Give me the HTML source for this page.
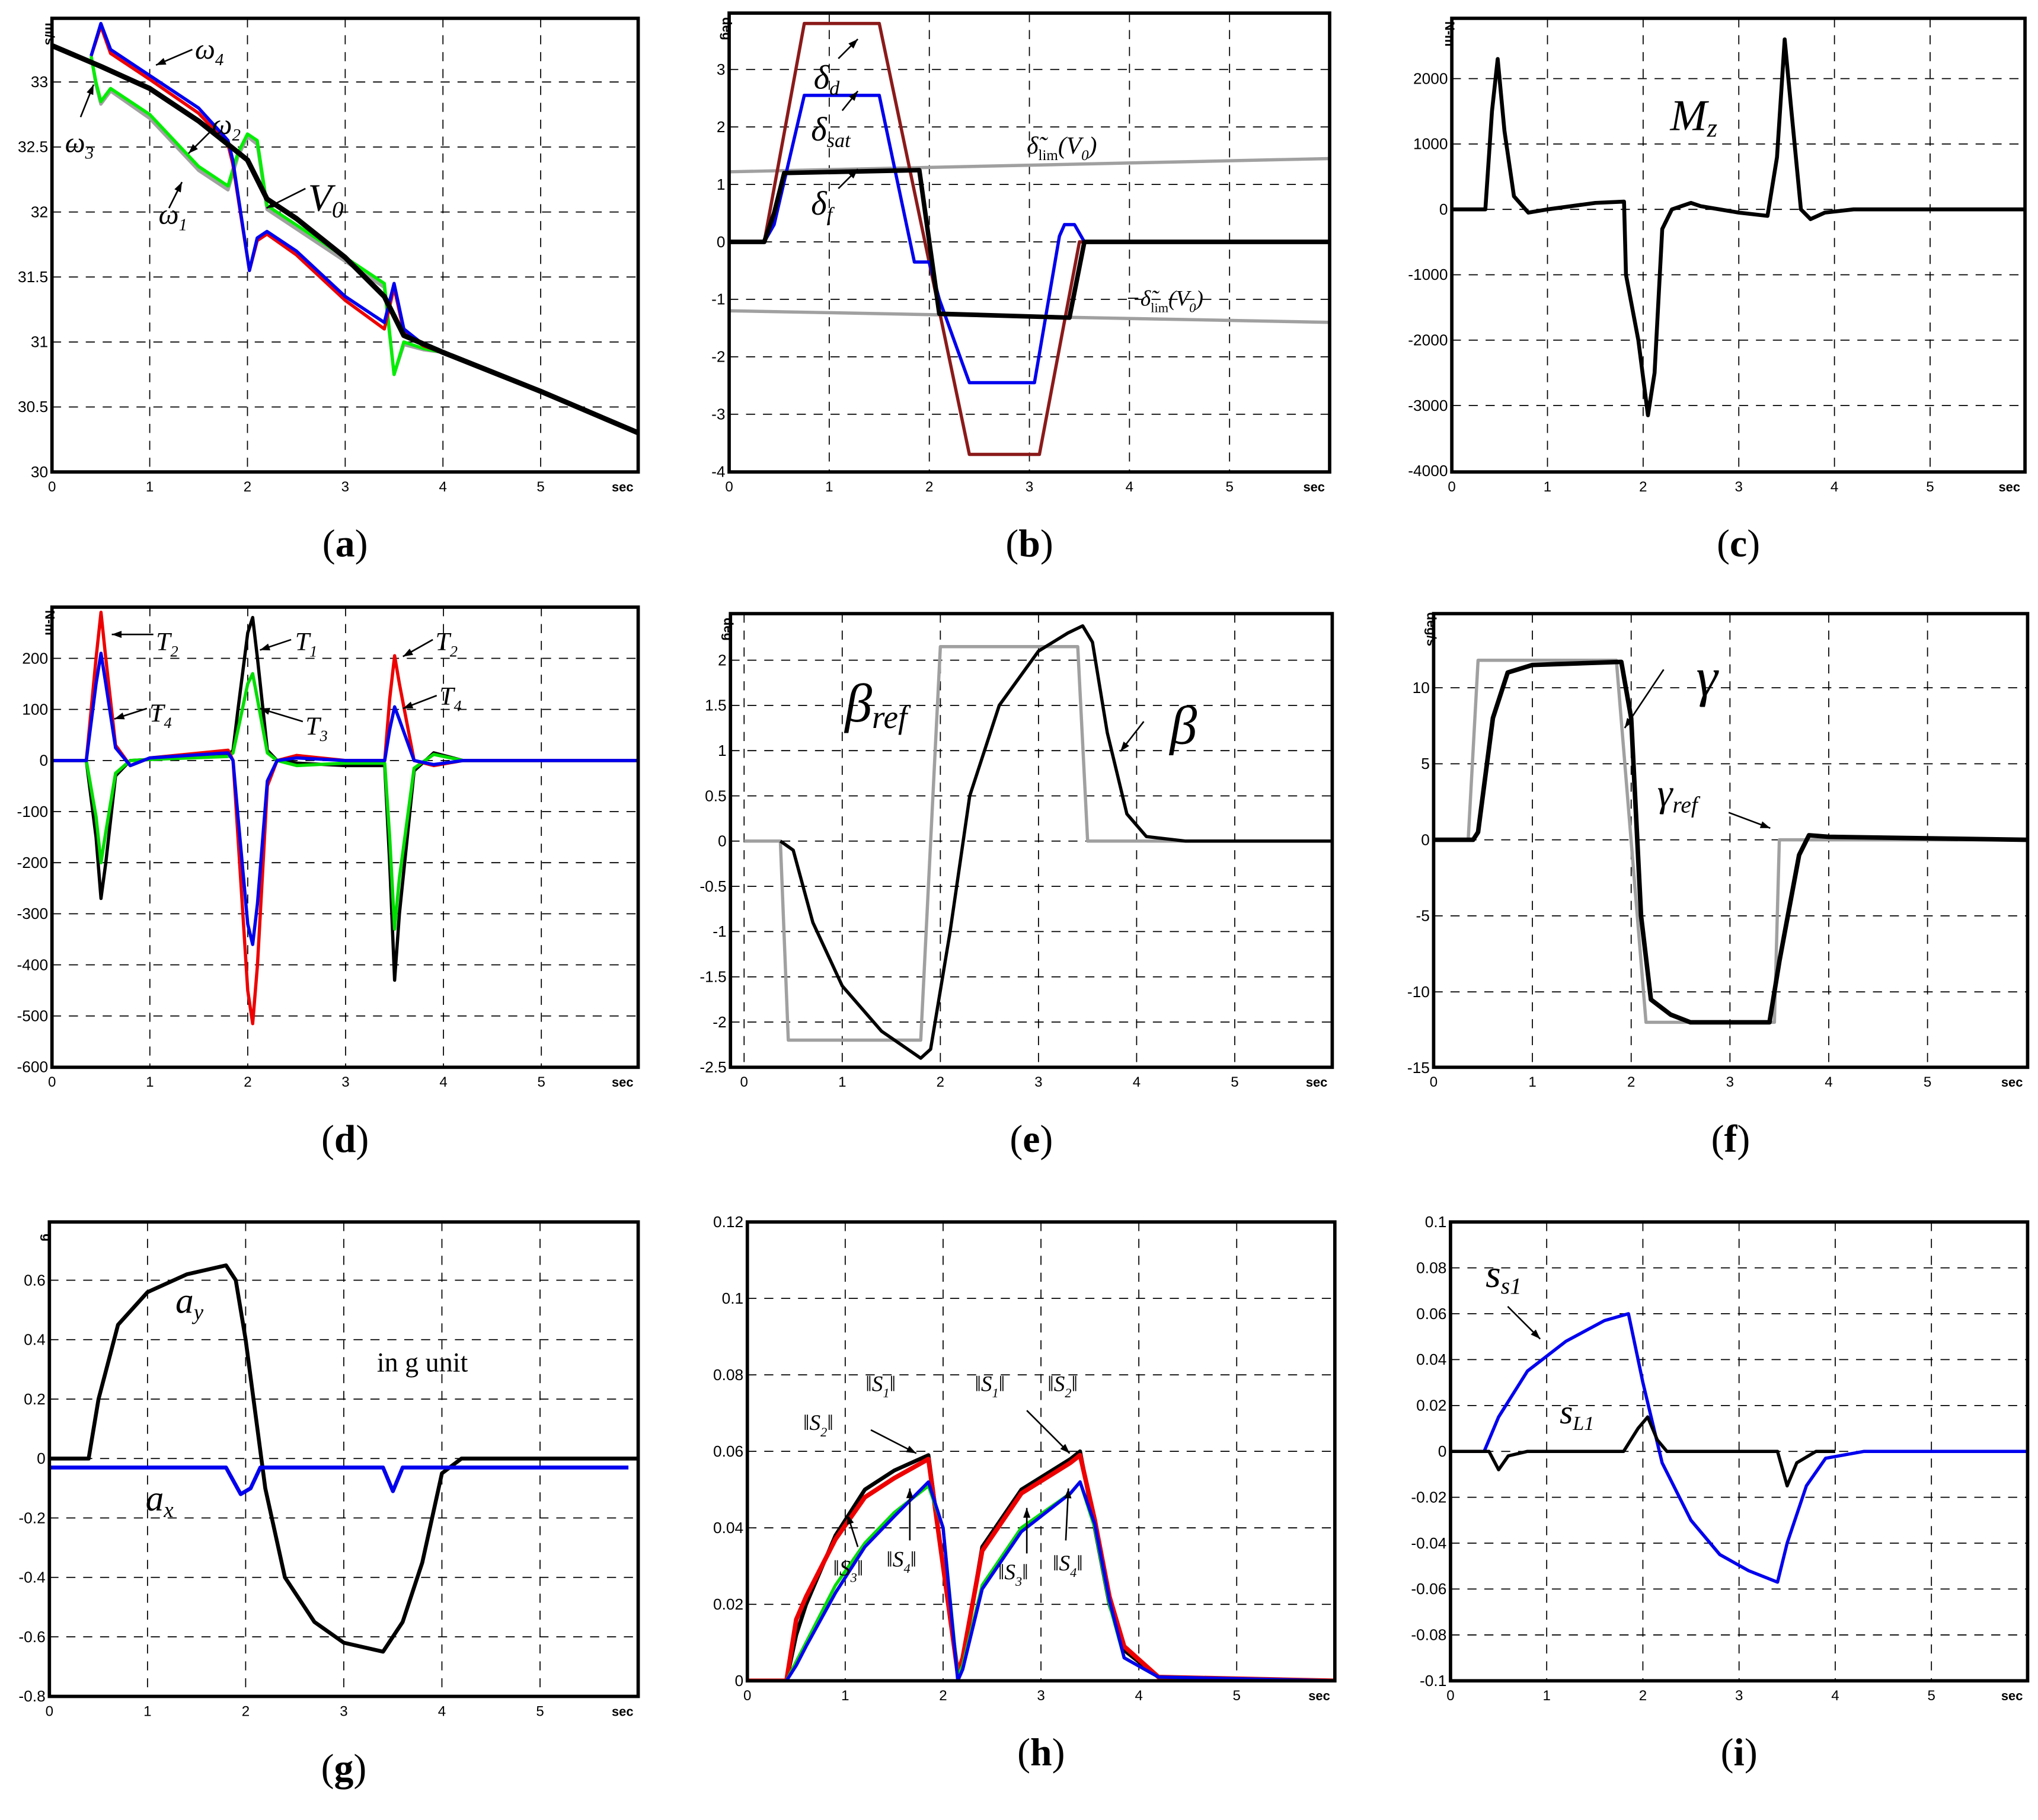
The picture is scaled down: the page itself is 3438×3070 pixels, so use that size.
<!DOCTYPE html>
<html><head><meta charset="utf-8">
<style>
html,body{margin:0;padding:0;background:#fff;}
svg{display:block;}
</style></head>
<body>
<svg id="fig" width="3438" height="3070" viewBox="0 0 1568 1400" xmlns="http://www.w3.org/2000/svg" font-family="Liberation Sans, sans-serif"></svg>
<script>
// ---------- data ----------
// panel a
const aT_V0=[0,0.5,1,1.5,2,2.2,2.5,3,3.4,3.6,4,5,6];
const aV_V0=[33.28,33.12,32.95,32.7,32.4,32.1,31.95,31.65,31.35,31.05,30.92,30.62,30.3];
const aT_w4=[0.4,0.5,0.6,1,1.5,1.8,1.85,2.02,2.1,2.2,2.5,3,3.4,3.5,3.6,3.8,4];
const aV_w4=[33.2,33.45,33.25,33.05,32.8,32.55,32.4,31.55,31.8,31.85,31.7,31.35,31.15,31.45,31.1,30.98,30.92];
const aV_w2=[33.2,33.43,33.22,33.02,32.76,32.52,32.37,31.55,31.78,31.83,31.67,31.32,31.1,31.42,31.08,30.97,30.92];
const aT_w3=[0.4,0.45,0.5,0.6,1,1.5,1.8,1.9,2.0,2.1,2.2,2.5,3,3.4,3.5,3.6,3.8,4];
const aV_w3=[33.2,33.0,32.85,32.95,32.75,32.35,32.2,32.45,32.6,32.55,32.05,31.9,31.65,31.45,30.75,31.0,30.95,30.92];
const aV_w1=[33.2,32.98,32.83,32.93,32.72,32.32,32.17,32.42,32.58,32.52,32.02,31.87,31.62,31.42,30.75,30.98,30.94,30.92];
// panel b
const bT_d=[0,0.35,0.75,1.5,2.4,3.1,3.5,6];
const bV_d=[0,0,3.8,3.8,-3.7,-3.7,0,0];
const bT_sat=[0,0.35,0.45,0.75,1.5,1.85,2.0,2.1,2.4,3.05,3.3,3.35,3.45,3.55,6];
const bV_sat=[0,0,0.3,2.55,2.55,-0.35,-0.35,-1,-2.45,-2.45,0.1,0.3,0.3,0,0];
const bT_f=[0,0.35,0.45,0.55,1.9,2.1,3.4,3.55,6];
const bV_f=[0,0,0.5,1.2,1.25,-1.25,-1.32,0,0];
const bT_lim=[0,6];
const bV_lim=[1.22,1.45];
const bV_nlim=[-1.2,-1.4];
// panel c
const cT=[0,0.35,0.42,0.48,0.55,0.65,0.8,1,1.5,1.8,1.82,1.95,2.05,2.12,2.2,2.3,2.4,2.5,2.6,3,3.3,3.4,3.48,3.55,3.65,3.75,3.9,4.2,6];
const cV=[0,0,1500,2300,1200,200,-50,0,100,120,-1000,-2000,-3150,-2500,-300,0,50,100,50,-50,-100,800,2600,1500,0,-150,-50,0,0];
// panel d
const dT=[0,0.35,0.45,0.5,0.55,0.65,0.8,1,1.8,1.85,1.9,2.0,2.05,2.1,2.2,2.3,2.5,3,3.4,3.45,3.5,3.55,3.7,3.9,4.2,6];
const dV_T2=[0,0,200,290,200,30,-10,5,20,0,-150,-450,-515,-400,-50,0,10,0,0,120,205,150,0,-10,0,0];
const dV_T4=[0,0,150,210,150,25,-10,5,15,0,-110,-320,-360,-280,-40,0,5,0,0,60,105,80,0,-8,0,0];
const dV_T1=[0,0,-150,-270,-200,-30,0,2,10,20,100,250,280,200,20,0,-5,-10,-10,-200,-430,-300,-20,15,0,0];
const dV_T3=[0,0,-110,-200,-140,-25,0,2,8,15,60,150,170,120,15,0,-10,-5,-5,-150,-330,-230,-15,12,0,0];
// panel e
const eT_b=[0.37,0.5,0.7,1,1.4,1.8,1.9,2.1,2.3,2.6,3,3.3,3.45,3.55,3.7,3.9,4.1,4.5,6];
const eV_b=[0,-0.1,-0.9,-1.6,-2.1,-2.4,-2.3,-1.0,0.5,1.5,2.1,2.3,2.38,2.2,1.2,0.3,0.05,0,0];
const eT_r=[0,0.37,0.45,1.8,2.0,3.4,3.5,5.5];
const eV_r=[0,0,-2.2,-2.2,2.15,2.15,0,0];
// panel f
const fT_g=[0,0.4,0.45,0.6,0.75,1,1.9,2.0,2.1,2.2,2.4,2.6,3.4,3.5,3.7,3.8,4,6];
const fV_g=[0,0,0.5,8,11,11.5,11.7,8,-5,-10.5,-11.5,-12,-12,-8,-1,0.3,0.2,0];
const fT_r=[0,0.35,0.45,1.85,2.15,3.45,3.5,6];
const fV_r=[0,0,11.8,11.8,-12,-12,0,0];
// panel g
const gT_y=[0,0.4,0.5,0.7,1,1.4,1.8,1.9,2,2.2,2.4,2.7,3,3.4,3.6,3.8,4,4.2,6];
const gV_y=[0,0,0.2,0.45,0.56,0.62,0.65,0.6,0.4,-0.1,-0.4,-0.55,-0.62,-0.65,-0.55,-0.35,-0.05,0,0];
const gT_x=[0,1.8,1.95,2.05,2.15,3.4,3.5,3.6,5.9];
const gV_x=[-0.03,-0.03,-0.12,-0.1,-0.03,-0.03,-0.11,-0.03,-0.03];
// panel h
const hT=[0,0.4,0.5,0.6,0.9,1.2,1.5,1.85,2.0,2.15,2.2,2.4,2.8,3.3,3.4,3.55,3.7,3.85,4.2,6];
const hV_S1=[0,0,0.012,0.02,0.038,0.05,0.055,0.059,0.03,0.002,0.005,0.035,0.05,0.058,0.06,0.04,0.02,0.008,0.001,0];
const hV_S2=[0,0,0.016,0.022,0.037,0.048,0.053,0.058,0.03,0.002,0.006,0.034,0.049,0.057,0.059,0.042,0.022,0.009,0.001,0];
const hV_S3=[0,0,0.005,0.01,0.025,0.036,0.044,0.051,0.04,0.001,0.004,0.025,0.04,0.049,0.052,0.04,0.02,0.006,0.001,0];
const hV_S4=[0,0,0.004,0.009,0.023,0.035,0.043,0.052,0.04,0,0.003,0.024,0.039,0.049,0.052,0.041,0.021,0.006,0.001,0];
// panel i
const iT_s=[0,0.35,0.5,0.8,1.2,1.6,1.85,2,2.2,2.5,2.8,3.1,3.4,3.5,3.7,3.9,4.3,6];
const iV_s=[0,0,0.015,0.035,0.048,0.057,0.06,0.03,-0.005,-0.03,-0.045,-0.052,-0.057,-0.04,-0.015,-0.003,0,0];
const iT_l=[0,0.4,0.5,0.6,0.8,1.8,1.95,2.05,2.15,2.25,3.4,3.5,3.6,3.8,4];
const iV_l=[0,0,-0.008,-0.002,0,0,0.01,0.015,0.005,0,0,-0.015,-0.005,0,0];

// ---------- drawing ----------
const NS='http://www.w3.org/2000/svg';
const svg=document.getElementById('fig');
const SERIF='Liberation Serif, serif';
function el(tag,attrs,parent){const e=document.createElementNS(NS,tag);for(const k in attrs)e.setAttribute(k,attrs[k]);(parent||svg).appendChild(e);return e;}
function txt(x,y,s,attrs,parent){const e=el('text',Object.assign({x:x,y:y},attrs||{}),parent);e.textContent=s;return e;}

function makePanel(p){
  const g=el('g',{});
  
  
  const X=t=>p.x0+t*p.sx, Y=v=>p.y0-v*p.sy;
  p.xt.forEach(t=>{const l=el('line',{x1:X(t),x2:X(t),y1:p.top,y2:p.bot,stroke:'#000','stroke-width':0.8,'stroke-dasharray':'7,6'},g);});
  p.yt.forEach(v=>{const l=el('line',{x1:p.left,x2:p.right,y1:Y(v),y2:Y(v),stroke:'#000','stroke-width':0.8,'stroke-dasharray':'7,6'},g);});
  p.xt.forEach(t=>{const e=txt(X(t),p.bot+15,String(t),{'font-size':11,'text-anchor':'middle'},g);});
  const se=txt(p.right-12,p.bot+15,'sec',{'font-size':10,'font-weight':'bold','text-anchor':'middle'},g);
  
  p.yt.forEach((v,i)=>{const e=txt(p.left-3,Y(v)+4,p.yl[i],{'font-size':12,'text-anchor':'end'},g);});
  const un=txt(0,0,p.unit,{'font-size':10,'font-weight':'bold','text-anchor':'middle',transform:`translate(${p.left-5},${p.top+12}) rotate(90)`},g);
  
  const clip=el('clipPath',{id:'c'+p.id},g);el('rect',{x:p.left,y:p.top,width:p.right-p.left,height:p.bot-p.top},clip);
  p.series.forEach(s=>{
    const d=s.t.map((t,i)=>(i?'L':'M')+X(t).toFixed(1)+','+Y(s.v[i]).toFixed(1)).join(' ');
    const path=el('path',{d:d,fill:'none',stroke:s.c,'stroke-width':s.w||2.5,'stroke-linejoin':'round','clip-path':`url(#c${p.id})`},g);
    
    
  });
  const fr=el('rect',{x:p.left,y:p.top,width:p.right-p.left,height:p.bot-p.top,fill:'none',stroke:'#000','stroke-width':2.6},g);
  
  const lab=el('text',{x:(p.left+p.right)/2,y:p.bot+65,'font-size':30,'text-anchor':'middle','font-family':SERIF},g);
  lab.innerHTML='(<tspan font-weight="bold">'+p.id+'</tspan>)';
  
  return {g,X,Y};
}
const X6=[0,1,2,3,4,5];
makePanel({id:'a',left:40,right:491,top:14,bot:363,x0:40,sx:75.2,y0:3363,sy:100,xt:X6,yt:[30,30.5,31,31.5,32,32.5,33],yl:['30','30.5','31','31.5','32','32.5','33'],unit:'m/s',
 series:[{name:'omega1-line',t:aT_w3,v:aV_w1,c:'#a0a0a0'},{name:'omega3-line',t:aT_w3,v:aV_w3,c:'#00ee00'},{name:'omega2-line',t:aT_w4,v:aV_w2,c:'#ee0000'},{name:'omega4-line',t:aT_w4,v:aV_w4,c:'#0000ee'},{name:'v0-line',t:aT_V0,v:aV_V0,c:'#000',w:4}]});
makePanel({id:'b',left:561,right:1023,top:10,bot:363,x0:561,sx:77,y0:186,sy:44.2,xt:X6,yt:[-4,-3,-2,-1,0,1,2,3],yl:['-4','-3','-2','-1','0','1','2','3'],unit:'deg',
 series:[{name:'delta-lim-line',t:bT_lim,v:bV_lim,c:'#a0a0a0'},{name:'neg-delta-lim-line',t:bT_lim,v:bV_nlim,c:'#a0a0a0'},{name:'delta-d-line',t:bT_d,v:bV_d,c:'#8b1a1a'},{name:'delta-sat-line',t:bT_sat,v:bV_sat,c:'#0000ee'},{name:'delta-f-line',t:bT_f,v:bV_f,c:'#000',w:3.5}]});
makePanel({id:'c',left:1117,right:1558,top:14,bot:363,x0:1117,sx:73.6,y0:161,sy:0.0503,xt:X6,yt:[-4000,-3000,-2000,-1000,0,1000,2000],yl:['-4000','-3000','-2000','-1000','0','1000','2000'],unit:'N-m',
 series:[{name:'mz-line',t:cT,v:cV,c:'#000',w:3}]});
makePanel({id:'d',left:40,right:491,top:467,bot:821,x0:40,sx:75.3,y0:585,sy:0.393,xt:X6,yt:[-600,-500,-400,-300,-200,-100,0,100,200],yl:['-600','-500','-400','-300','-200','-100','0','100','200'],unit:'N-m',
 series:[{name:'t1-line',t:dT,v:dV_T1,c:'#000'},{name:'t3-line',t:dT,v:dV_T3,c:'#00dd00'},{name:'t2-line',t:dT,v:dV_T2,c:'#ee0000'},{name:'t4-line',t:dT,v:dV_T4,c:'#0000ee'}]});
makePanel({id:'e',left:562,right:1025,top:472,bot:821,x0:572.5,sx:75.5,y0:647,sy:69.6,xt:X6,yt:[-2.5,-2,-1.5,-1,-0.5,0,0.5,1,1.5,2],yl:['-2.5','-2','-1.5','-1','-0.5','0','0.5','1','1.5','2'],unit:'deg',
 series:[{name:'beta-ref-line',t:eT_r,v:eV_r,c:'#a0a0a0'},{name:'beta-line',t:eT_b,v:eV_b,c:'#000',w:2.5}]});
makePanel({id:'f',left:1103,right:1560,top:472,bot:821,x0:1103,sx:76,y0:646,sy:11.7,xt:X6,yt:[-15,-10,-5,0,5,10],yl:['-15','-10','-5','0','5','10'],unit:'deg/s',
 series:[{name:'gamma-ref-line',t:fT_r,v:fV_r,c:'#a0a0a0'},{name:'gamma-line',t:fT_g,v:fV_g,c:'#000',w:3.5}]});
makePanel({id:'g',left:38,right:491,top:940,bot:1305,x0:38,sx:75.5,y0:1122,sy:228.6,xt:X6,yt:[-0.8,-0.6,-0.4,-0.2,0,0.2,0.4,0.6],yl:['-0.8','-0.6','-0.4','-0.2','0','0.2','0.4','0.6'],unit:'g',
 series:[{name:'ay-line',t:gT_y,v:gV_y,c:'#000',w:3},{name:'ax-line',t:gT_x,v:gV_x,c:'#0000ee',w:3}]});
makePanel({id:'h',left:575,right:1027,top:940,bot:1293,x0:575,sx:75.3,y0:1293,sy:2942,xt:X6,yt:[0,0.02,0.04,0.06,0.08,0.1,0.12],yl:['0','0.02','0.04','0.06','0.08','0.1','0.12'],unit:'',
 series:[{name:'s1-norm-line',t:hT,v:hV_S1,c:'#000',w:3},{name:'s2-norm-line',t:hT,v:hV_S2,c:'#ee0000',w:3.5},{name:'s3-norm-line',t:hT,v:hV_S3,c:'#00dd00'},{name:'s4-norm-line',t:hT,v:hV_S4,c:'#0000ee',w:2.5}]});
makePanel({id:'i',left:1116,right:1560,top:940,bot:1293,x0:1116,sx:74,y0:1116.5,sy:1765,xt:X6,yt:[-0.1,-0.08,-0.06,-0.04,-0.02,0,0.02,0.04,0.06,0.08,0.1],yl:['-0.1','-0.08','-0.06','-0.04','-0.02','0','0.02','0.04','0.06','0.08','0.1'],unit:'',
 series:[{name:'ss1-line',t:iT_s,v:iV_s,c:'#0000ee',w:2.5},{name:'sl1-line',t:iT_l,v:iV_l,c:'#000',w:2.5}]});

// annotations
function ann(x,y,html,size,name){const e=el('text',{x:x,y:y,'font-size':size,'font-family':SERIF,'font-style':'italic'});e.innerHTML=html;}
function arrow(x1,y1,x2,y2,name){const l=el('line',{x1,y1,x2,y2,stroke:'#000','stroke-width':1.2});
 const a=Math.atan2(y2-y1,x2-x1),s=8;const p=el('polygon',{points:`${x2},${y2} ${x2-s*Math.cos(a-0.35)},${y2-s*Math.sin(a-0.35)} ${x2-s*Math.cos(a+0.35)},${y2-s*Math.sin(a+0.35)}`,fill:'#000'});}
const sub=(s)=>`<tspan font-size="0.6em" dy="5">${s}</tspan>`;
ann(150,45,'ω'+sub('4'),22,'omega4-label');arrow(148,38,120,50,'omega4-arrow');
ann(163,103,'ω'+sub('2'),22,'omega2-label');arrow(163,100,145,118,'omega2-arrow');
ann(50,117,'ω'+sub('3'),22,'omega3-label');arrow(62,90,72,65,'omega3-arrow');
ann(122,172,'ω'+sub('1'),22,'omega1-label');arrow(130,160,140,140,'omega1-arrow');
ann(237,162,'V'+sub('0'),30,'v0-label');arrow(235,145,205,160,'v0-arrow');
ann(626,68,'δ'+sub('d'),26,'delta-d-label');arrow(645,45,660,30,'delta-d-arrow');
ann(624,108,'δ'+sub('sat'),26,'delta-sat-label');arrow(648,85,660,70,'delta-sat-arrow');
ann(624,165,'δ'+sub('f'),26,'delta-f-label');arrow(645,145,660,130,'delta-f-arrow');
ann(790,118,'δ̃<tspan font-size="0.6em" dy="5" font-style="normal">lim</tspan><tspan dy="-5">(V</tspan>'+sub('0')+'<tspan dy="-5">)</tspan>',19,'delta-lim-label');
ann(866,235,'−δ̃<tspan font-size="0.6em" dy="5" font-style="normal">lim</tspan><tspan dy="-5">(V</tspan>'+sub('0')+'<tspan dy="-5">)</tspan>',17,'neg-delta-lim-label');
ann(1285,100,'M'+sub('z'),34,'mz-label');
ann(120,500,'T'+sub('2'),20,'t2-label-1');arrow(118,488,86,488,'t2-arrow-1');
ann(115,555,'T'+sub('4'),20,'t4-label');arrow(113,545,88,553,'t4-arrow');
ann(227,500,'T'+sub('1'),20,'t1-label');arrow(224,492,200,500,'t1-arrow');
ann(235,565,'T'+sub('3'),20,'t3-label');arrow(233,555,200,545,'t3-arrow');
ann(335,500,'T'+sub('2'),20,'t2-label-2');arrow(333,492,310,505,'t2-arrow-2');
ann(338,542,'T'+sub('4'),20,'t4-label-2');arrow(336,535,310,545,'t4-arrow-2');
ann(650,555,'β'+sub('ref'),42,'beta-ref-label');
ann(900,572,'β',42,'beta-label');arrow(880,555,862,578,'beta-arrow');
ann(1305,535,'γ',42,'gamma-label');arrow(1280,515,1250,560,'gamma-arrow');
ann(1275,620,'γ'+sub('ref'),30,'gamma-ref-label');arrow(1330,625,1362,637,'gamma-ref-arrow');
ann(135,1010,'a'+sub('y'),28,'ay-label');
ann(112,1162,'a'+sub('x'),28,'ax-label');
const ig=txt(290,1055,'in g unit',{'font-size':21,'font-family':SERIF});
ann(618,1100,'‖S'+sub('2')+'<tspan dy="-5">‖</tspan>',17,'s2-label-1');ann(666,1070,'‖S'+sub('1')+'<tspan dy="-5">‖</tspan>',17,'s1-label-1');arrow(670,1100,705,1118,'s1-arrow-1');
ann(641,1212,'‖S'+sub('3')+'<tspan dy="-5">‖</tspan>',17,'s3-label-1');ann(682,1205,'‖S'+sub('4')+'<tspan dy="-5">‖</tspan>',17,'s4-label-1');arrow(660,1190,652,1165,'s3-arrow-1');arrow(700,1185,700,1145,'s4-arrow-1');
ann(750,1070,'‖S'+sub('1')+'<tspan dy="-5">‖</tspan>',17,'s1-label-2');ann(806,1070,'‖S'+sub('2')+'<tspan dy="-5">‖</tspan>',17,'s2-label-2');arrow(790,1085,823,1118,'s2-arrow-2');
ann(768,1215,'‖S'+sub('3')+'<tspan dy="-5">‖</tspan>',17,'s3-label-2');ann(810,1208,'‖S'+sub('4')+'<tspan dy="-5">‖</tspan>',17,'s4-label-2');arrow(790,1195,790,1160,'s3-arrow-2');arrow(820,1185,822,1145,'s4-arrow-2');
ann(1143,990,'s'+sub('s1'),30,'ss1-label');arrow(1160,1005,1185,1030,'ss1-arrow');
ann(1200,1095,'s'+sub('L1'),26,'sl1-label');
</script>
</body></html>
